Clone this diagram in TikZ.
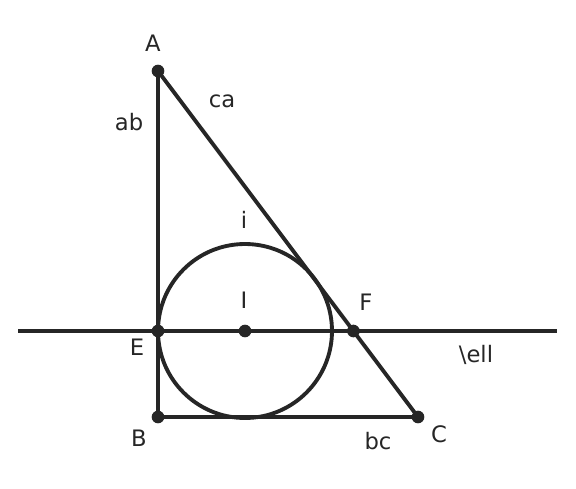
\documentclass[tikz,border=0pt]{standalone}
\usepackage{fontspec}
\setmainfont{DejaVu Sans}
\begin{document}
\begin{tikzpicture}[x=0.75pt,y=-0.75pt,
  ink/.style={draw=dk,line width=2.9pt},
  dot/.style={circle,fill=dk,inner sep=0pt,minimum size=9.5pt},
  lbl/.style={text=dk,font=\fontsize{17}{19}\selectfont,inner sep=0pt}]
\definecolor{dk}{HTML}{262626}
\useasboundingbox (0,0) rectangle (576,489);
\coordinate (L1) at (18,331);
\coordinate (L2) at (557,331);
\node[dot] (A) at (158,71) {};
\node[dot] (B) at (158,417) {};
\node[dot] (C) at (418,417) {};
\node[dot] (E) at (158,331) {};
\node[dot] (I) at (245,331) {};
\node[dot] (F) at (353.4,331) {};
\draw[ink] (L1) -- (L2);
\draw[ink] (A.center) -- (B.center) -- (C.center) -- (A.center);
\draw[ink] (I.center) circle[radius=87];
\node[lbl] (tA) at (153,43) {A};
\node[lbl] (tab) at (129,122) {ab};
\node[lbl] (tca) at (222,101) {ca};
\node[lbl] (ti) at (244,220) {i};
\node[lbl] (tI) at (244,300) {I};
\node[lbl] (tF) at (366,302) {F};
\node[lbl] (tE) at (137,347) {E};
\node[lbl] (tell) at (476,355) {\textbackslash ell};
\node[lbl] (tB) at (139,438) {B};
\node[lbl] (tbc) at (378,441) {bc};
\node[lbl] (tC) at (439,434) {C};
\end{tikzpicture}
\end{document}
